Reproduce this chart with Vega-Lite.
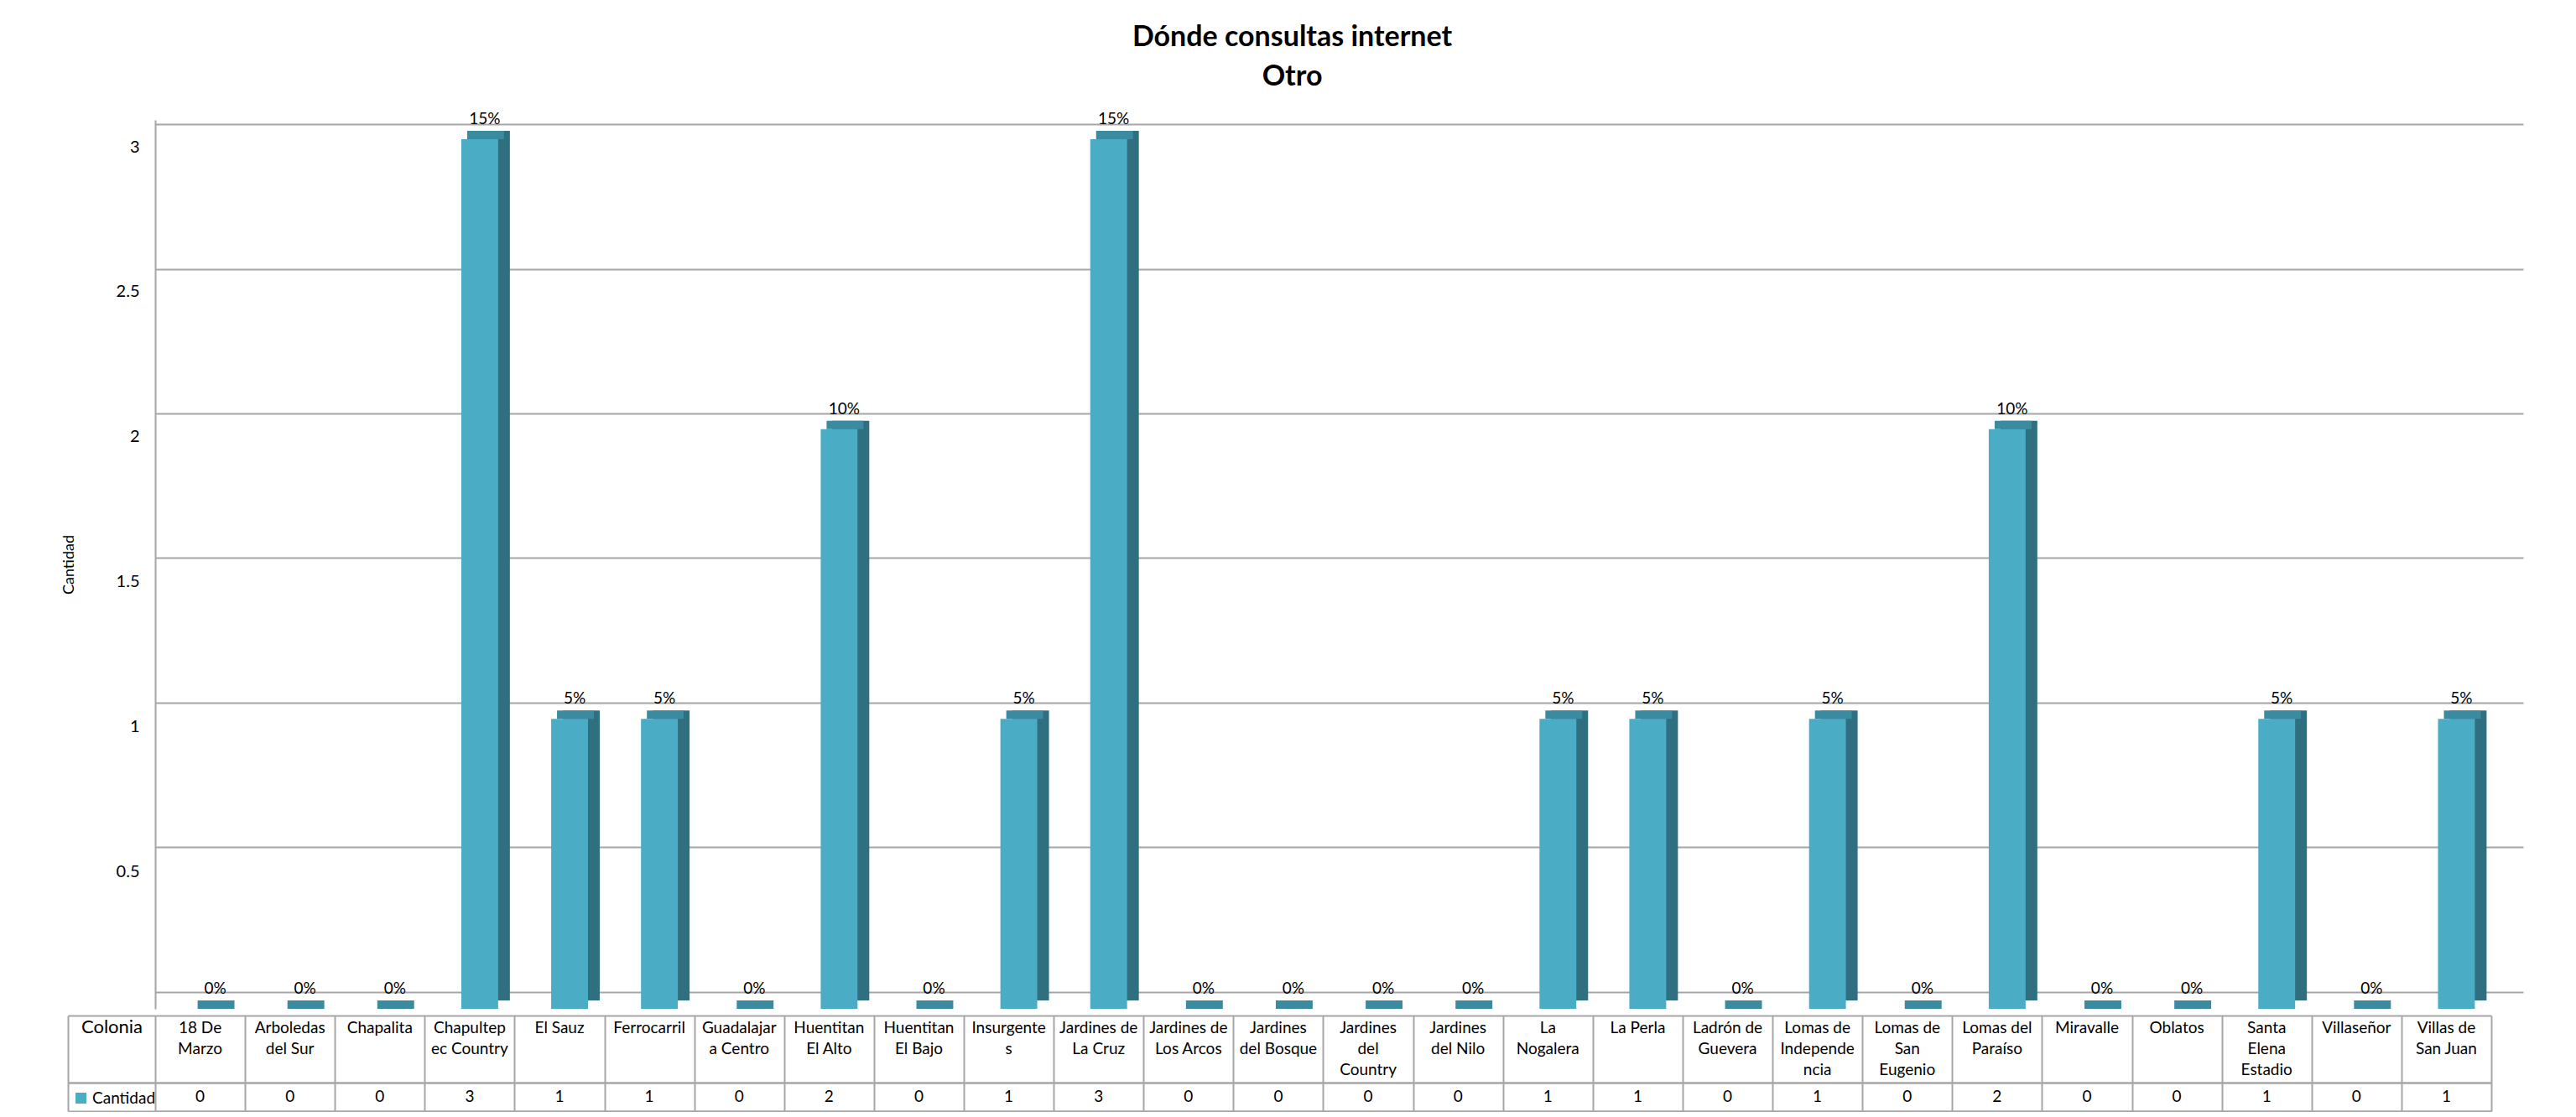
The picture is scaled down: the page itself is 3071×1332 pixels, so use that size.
{
  "$schema": "https://vega.github.io/schema/vega-lite/v6.json",
  "padding": {"left": 73, "top": 28, "right": 5, "bottom": 0},
  "background": "#ffffff",
  "title": {
    "text": ["Dónde consultas internet", "Otro"],
    "fontSize": 34,
    "font": "Lato",
    "fontWeight": "bold",
    "lineHeight": 47,
    "anchor": "middle",
    "color": "#000000",
    "offset": 24
  },
  "data": {
    "values": [
      {"colonia": "18 De Marzo", "etiqueta": "18 De\nMarzo", "cantidad": 0, "porcentaje": 0},
      {"colonia": "Arboledas del Sur", "etiqueta": "Arboledas\ndel Sur", "cantidad": 0, "porcentaje": 0},
      {"colonia": "Chapalita", "etiqueta": "Chapalita", "cantidad": 0, "porcentaje": 0},
      {"colonia": "Chapultepec Country", "etiqueta": "Chapultep\nec Country", "cantidad": 3, "porcentaje": 0.15},
      {"colonia": "El Sauz", "etiqueta": "El Sauz", "cantidad": 1, "porcentaje": 0.05},
      {"colonia": "Ferrocarril", "etiqueta": "Ferrocarril", "cantidad": 1, "porcentaje": 0.05},
      {"colonia": "Guadalajara Centro", "etiqueta": "Guadalajar\na Centro", "cantidad": 0, "porcentaje": 0},
      {"colonia": "Huentitan El Alto", "etiqueta": "Huentitan\nEl Alto", "cantidad": 2, "porcentaje": 0.10},
      {"colonia": "Huentitan El Bajo", "etiqueta": "Huentitan\nEl Bajo", "cantidad": 0, "porcentaje": 0},
      {"colonia": "Insurgentes", "etiqueta": "Insurgente\ns", "cantidad": 1, "porcentaje": 0.05},
      {"colonia": "Jardines de La Cruz", "etiqueta": "Jardines de\nLa Cruz", "cantidad": 3, "porcentaje": 0.15},
      {"colonia": "Jardines de Los Arcos", "etiqueta": "Jardines de\nLos Arcos", "cantidad": 0, "porcentaje": 0},
      {"colonia": "Jardines del Bosque", "etiqueta": "Jardines\ndel Bosque", "cantidad": 0, "porcentaje": 0},
      {"colonia": "Jardines del Country", "etiqueta": "Jardines\ndel\nCountry", "cantidad": 0, "porcentaje": 0},
      {"colonia": "Jardines del Nilo", "etiqueta": "Jardines\ndel Nilo", "cantidad": 0, "porcentaje": 0},
      {"colonia": "La Nogalera", "etiqueta": "La\nNogalera", "cantidad": 1, "porcentaje": 0.05},
      {"colonia": "La Perla", "etiqueta": "La Perla", "cantidad": 1, "porcentaje": 0.05},
      {"colonia": "Ladrón de Guevera", "etiqueta": "Ladrón de\nGuevera", "cantidad": 0, "porcentaje": 0},
      {"colonia": "Lomas de Independencia", "etiqueta": "Lomas de\nIndepende\nncia", "cantidad": 1, "porcentaje": 0.05},
      {"colonia": "Lomas de San Eugenio", "etiqueta": "Lomas de\nSan\nEugenio", "cantidad": 0, "porcentaje": 0},
      {"colonia": "Lomas del Paraíso", "etiqueta": "Lomas del\nParaíso", "cantidad": 2, "porcentaje": 0.10},
      {"colonia": "Miravalle", "etiqueta": "Miravalle", "cantidad": 0, "porcentaje": 0},
      {"colonia": "Oblatos", "etiqueta": "Oblatos", "cantidad": 0, "porcentaje": 0},
      {"colonia": "Santa Elena Estadio", "etiqueta": "Santa\nElena\nEstadio", "cantidad": 1, "porcentaje": 0.05},
      {"colonia": "Villaseñor", "etiqueta": "Villaseñor", "cantidad": 0, "porcentaje": 0},
      {"colonia": "Villas de San Juan", "etiqueta": "Villas de\nSan Juan", "cantidad": 1, "porcentaje": 0.05}
    ]
  },
  "spacing": 8,
  "bounds": "flush",
  "vconcat": [
    {
      "width": 2823,
      "height": 1060,
      "layer": [
        {
          "encoding": {
            "x": {
              "field": "colonia", "type": "nominal", "sort": null,
              "scale": {"range": [0, 2785], "paddingInner": 0, "paddingOuter": 0},
              "axis": null
            },
            "y": {
              "field": "cantidad", "type": "quantitative",
              "scale": {"domain": [0, 3.0666], "nice": false, "zero": true},
              "axis": {
                "values": [0.5, 1, 1.5, 2, 2.5, 3],
                "format": "~g",
                "labelOffset": 9,
                "labelPadding": 19,
                "labelFontSize": 20,
                "ticks": false,
                "grid": false,
                "domain": true,
                "domainColor": "#A6A6A6",
                "domainWidth": 2,
                "title": "Cantidad",
                "titlePadding": 47,
                "titleFontSize": 18,
                "titleFontWeight": "normal"
              }
            }
          },
          "layer": [
            {
              "mark": {"type": "bar", "color": "#2F6F80", "width": {"band": 0.41}, "xOffset": 26, "yOffset": -10, "y2Offset": -10}
            },
            {
              "mark": {"type": "bar", "color": "#3A8BA0", "width": {"band": 0.41}, "xOffset": 19, "yOffset": -10, "y2Offset": 0},
              "encoding": {"y2": {"field": "cantidad"}}
            },
            {
              "mark": {"type": "bar", "width": {"band": 0.41}, "xOffset": 12},
              "encoding": {
                "color": {
                  "datum": "Cantidad", "type": "nominal",
                  "scale": {"range": ["#4BACC6"]},
                  "legend": {
                    "orient": "none", "legendX": -98, "legendY": 1157,
                    "title": null, "symbolType": "square", "symbolSize": 170,
                    "symbolStrokeWidth": 0,
                    "labelFontSize": 19, "labelOffset": 4, "padding": 0
                  }
                }
              }
            },
            {
              "mark": {"type": "text", "dy": -24, "xOffset": 18, "fontSize": 19, "color": "#000000", "baseline": "middle"},
              "encoding": {"text": {"field": "porcentaje", "type": "quantitative", "format": ".0%"}}
            }
          ]
        },
        {
          "mark": {"type": "rule", "opacity": 0},
          "encoding": {
            "y": {
              "datum": 0, "type": "quantitative",
              "scale": {"domain": [-0.058, 3.0145], "nice": false, "zero": false},
              "axis": {
                "orient": "left",
                "values": [0, 0.5, 1, 1.5, 2, 2.5, 3],
                "grid": true,
                "gridColor": "#A6A6A6",
                "gridWidth": 2,
                "labels": false,
                "ticks": false,
                "domain": false,
                "title": null
              }
            }
          }
        }
      ],
      "resolve": {"scale": {"y": "independent"}, "axis": {"y": "independent"}}
    },
    {
      "spacing": 0,
      "bounds": "flush",
      "vconcat": [
        {
          "width": 2785,
          "height": 80,
          "mark": {"type": "text", "lineBreak": "\n", "baseline": "top", "dy": -34, "fontSize": 19, "lineHeight": 25, "color": "#000000"},
          "encoding": {
            "x": {
              "field": "colonia", "type": "nominal", "sort": null,
              "scale": {"type": "band", "paddingInner": 0, "paddingOuter": 0},
              "axis": {"orient": "bottom", "tickBand": "extent", "grid": true, "gridColor": "#A6A6A6", "gridWidth": 2, "labels": false, "ticks": false, "domain": false, "title": null}
            },
            "y": {
              "datum": "Colonia", "type": "nominal",
              "scale": {"type": "band", "paddingInner": 0, "paddingOuter": 0},
              "axis": {
                "orient": "left", "offset": 104, "tickBand": "extent",
                "ticks": true, "tickSize": -104, "tickColor": "#A6A6A6", "tickWidth": 2,
                "grid": true, "gridColor": "#A6A6A6", "gridWidth": 2,
                "domain": true, "domainColor": "#A6A6A6", "domainWidth": 2,
                "labels": true, "labelAlign": "center", "labelBaseline": "top",
                "labelPadding": 52, "labelOffset": -37, "labelFontSize": 22,
                "labelFontWeight": "normal",
                "title": null
              }
            },
            "text": {"field": "etiqueta", "type": "nominal"}
          }
        },
        {
          "width": 2785,
          "height": 34,
          "mark": {"type": "text", "baseline": "middle", "fontSize": 19, "color": "#000000"},
          "encoding": {
            "x": {
              "field": "colonia", "type": "nominal", "sort": null,
              "scale": {"type": "band", "paddingInner": 0, "paddingOuter": 0},
              "axis": {"orient": "bottom", "tickBand": "extent", "grid": true, "gridColor": "#A6A6A6", "gridWidth": 2, "labels": false, "ticks": false, "domain": true, "domainColor": "#A6A6A6", "domainWidth": 2, "title": null}
            },
            "y": {
              "datum": "Cantidad", "type": "nominal",
              "scale": {"type": "band", "paddingInner": 0, "paddingOuter": 0},
              "axis": {
                "orient": "left", "offset": 104, "tickBand": "extent",
                "ticks": true, "tickSize": -104, "tickColor": "#A6A6A6", "tickWidth": 2,
                "grid": true, "gridColor": "#A6A6A6", "gridWidth": 2,
                "domain": true, "domainColor": "#A6A6A6", "domainWidth": 2,
                "labels": false,
                "title": null
              }
            },
            "text": {"field": "cantidad", "type": "quantitative"}
          }
        }
      ]
    }
  ],
  "config": {
    "font": "Lato",
    "view": {"stroke": null},
    "axis": {"labelFont": "Lato", "titleFont": "Lato", "labelColor": "#000000", "titleColor": "#000000"},
    "legend": {"labelFont": "Lato", "labelColor": "#000000"},
    "text": {"font": "Lato"}
  }
}
